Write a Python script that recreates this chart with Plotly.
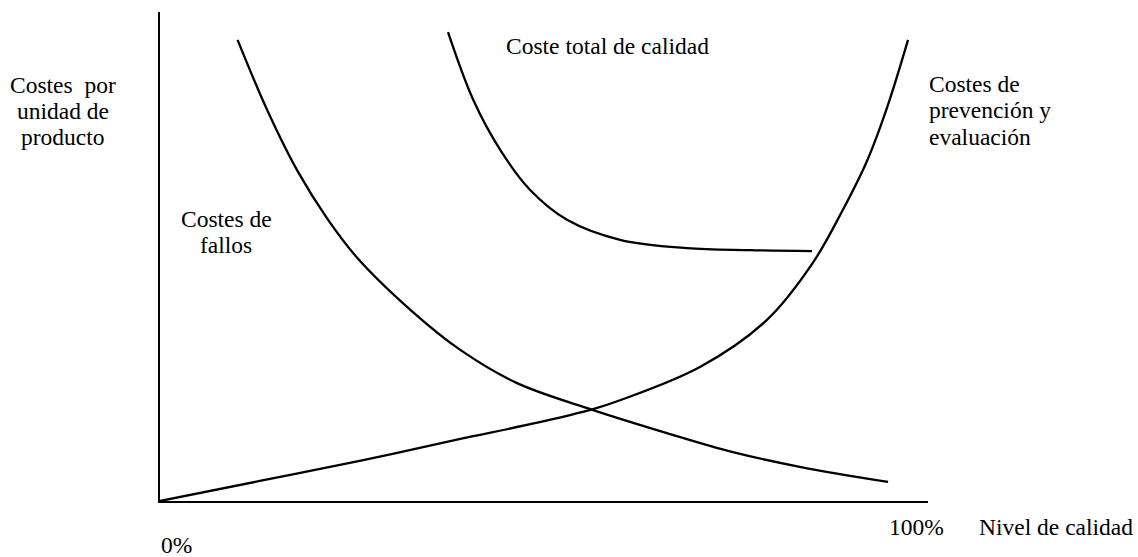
import plotly.graph_objects as go

# Quality level (% of the axis) and cost values (relative units, 0-100)
fallos_x = [10.1, 14.0, 17.9, 21.8, 25.7, 32.6, 39.1, 46.5, 56.4, 66.0, 74.6, 83.3, 94.8]
fallos_y = [94.3, 79.8, 67.5, 57.7, 49.7, 39.1, 30.9, 24.1, 18.6, 13.9, 10.0, 7.0, 3.9]

prevencion_x = [0.0, 13.0, 26.0, 39.1, 48.2, 56.4, 59.9, 70.3, 79.0, 85.0, 88.9, 92.1, 94.7, 97.4]
prevencion_y = [0.0, 4.1, 8.2, 12.7, 15.7, 18.8, 20.6, 27.4, 37.0, 48.7, 59.5, 69.7, 80.6, 94.3]

total_x = [37.5, 40.8, 44.3, 48.2, 53.0, 59.9, 68.6, 76.8, 84.9]
total_y = [95.9, 82.0, 71.8, 63.6, 57.5, 53.4, 51.7, 51.3, 51.1]

W, H = 1138, 557
L, R, T, B = 160, 928, 12, 501  # plot area in pixels

FONT = dict(family="Liberation Serif", size=23.5, color="black")

fig = go.Figure()
for xs, ys in [(fallos_x, fallos_y), (prevencion_x, prevencion_y), (total_x, total_y)]:
    fig.add_trace(go.Scatter(x=xs, y=ys, mode="lines",
                             line=dict(color="black", width=2.3, shape="spline", smoothing=1.0),
                             hoverinfo="skip", showlegend=False))

def px2paper(px, py):
    return (px - L) / (R - L), (B - py) / (B - T)

labels = [
    ("Costes  por", 63, 85, "center"),
    ("unidad de", 63, 111, "center"),
    ("producto", 63, 137, "center"),
    ("Coste total de calidad", 505, 46, "left"),
    ("Costes de", 928, 84, "left"),
    ("prevención y", 928, 110, "left"),
    ("evaluación", 928, 137, "left"),
    ("Costes de", 226, 219, "center"),
    ("fallos", 226, 245, "center"),
    ("0%", 160, 545, "left"),
    ("100%", 916, 527, "center"),
    ("Nivel de calidad", 978, 527, "left"),
]
for text, px, py, anchor in labels:
    xp, yp = px2paper(px, py)
    fig.add_annotation(text=text, x=xp, y=yp, xref="paper", yref="paper",
                       xanchor=anchor, yanchor="middle", showarrow=False,
                       borderpad=0, font=FONT)

fig.update_layout(
    width=W, height=H,
    margin=dict(l=L, r=W - R, t=T, b=H - B, pad=0),
    paper_bgcolor="white", plot_bgcolor="white",
    xaxis=dict(range=[0, 100], showgrid=False, zeroline=False, showticklabels=False,
               ticks="", showline=True, linecolor="black", linewidth=2),
    yaxis=dict(range=[0, 100], showgrid=False, zeroline=False, showticklabels=False,
               ticks="", showline=True, linecolor="black", linewidth=2),
)

fig.write_html("out.html", config={"displayModeBar": False},
               post_script="document.body.style.margin='0';document.body.style.overflow='hidden';")
